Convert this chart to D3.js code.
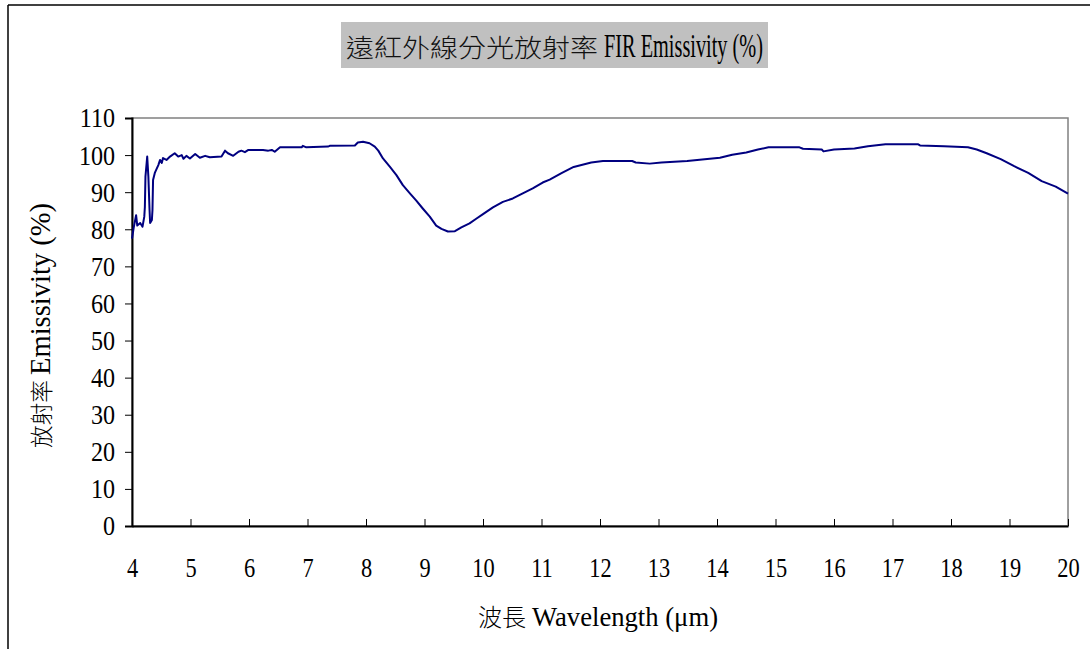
<!DOCTYPE html>
<html><head><meta charset="utf-8">
<script src="https://cdn.jsdelivr.net/npm/d3@7"></script>
<style>
html,body{margin:0;padding:0;background:#fff;}
svg{display:block;}
</style></head>
<body>
<svg id="chart" width="1090" height="649"></svg>
<script>
const wavelength = [4.00,4.03,4.07,4.09,4.14,4.18,4.21,4.22,4.23,4.26,4.28,4.30,4.31,4.34,4.35,4.36,4.39,4.45,4.48,4.51,4.53,4.59,4.65,4.73,4.79,4.85,4.88,4.93,4.99,5.08,5.16,5.25,5.33,5.53,5.59,5.64,5.73,5.82,5.87,5.93,5.99,6.24,6.33,6.39,6.44,6.53,6.90,6.92,6.98,7.35,7.38,7.81,7.86,7.95,8.06,8.15,8.21,8.29,8.41,8.52,8.63,8.75,8.86,8.97,9.09,9.20,9.29,9.40,9.52,9.63,9.77,9.89,10.00,10.17,10.34,10.51,10.68,10.85,11.02,11.14,11.35,11.55,11.85,12.05,12.55,12.61,12.85,13.05,13.49,13.79,14.05,14.26,14.50,14.70,14.88,15.41,15.47,15.79,15.82,16.00,16.35,16.58,16.88,17.44,17.47,17.88,18.29,18.44,18.61,18.85,19.08,19.32,19.55,19.79,20.00];
const emissivity = [77.5,80.5,83.8,81.0,81.7,80.7,83.4,86.0,94.2,99.6,94.2,85.2,81.7,82.5,85.2,93.3,95.2,97.3,98.7,97.9,99.2,98.7,99.6,100.5,99.6,100.0,99.0,99.8,99.1,100.3,99.3,99.8,99.4,99.6,101.2,100.5,99.8,100.9,101.2,100.8,101.4,101.4,101.2,101.4,100.9,102.1,102.1,102.5,102.1,102.3,102.5,102.6,103.4,103.6,103.2,102.3,101.2,99.1,96.8,94.6,91.9,89.7,87.7,85.6,83.4,81.0,80.1,79.4,79.5,80.5,81.6,82.9,84.1,85.9,87.4,88.3,89.7,91.0,92.6,93.4,95.2,96.8,98.0,98.4,98.4,98.0,97.7,98.0,98.4,98.9,99.3,100.1,100.7,101.5,102.1,102.1,101.7,101.5,101.0,101.5,101.8,102.4,102.9,102.9,102.6,102.4,102.1,101.5,100.5,98.9,97.0,95.2,93.0,91.5,89.6];
const xTicks = [4,5,6,7,8,9,10,11,12,13,14,15,16,17,18,19,20];
const yTicks = [0,10,20,30,40,50,60,70,80,90,100,110];
const titleCJK = "遠紅外線分光放射率";
const titleLatin = "FIR Emissivity (%)";
const yTitleCJK = "放射率";
const yTitleLatin = "Emissivity (%)";
const xTitleCJK = "波長";
const xTitleLatin = "Wavelength (μm)";

const svg = d3.select("#chart");
const L = 132, R = 1068, T = 118, B = 526;
const x = d3.scaleLinear().domain([4,20]).range([L,R]);
const y = d3.scaleLinear().domain([0,110]).range([B,T]);
const serif = "'Liberation Serif','Times New Roman',serif";
const cjk = "'Noto Sans CJK TC','Noto Sans CJK SC',sans-serif";

function condense(sel, f) {
  sel.each(function(){
    const w = this.getComputedTextLength();
    d3.select(this).attr("textLength", w*f).attr("lengthAdjust","spacingAndGlyphs");
  });
}

// outer chart border
svg.append("line").attr("x1",8).attr("y1",5).attr("x2",1090).attr("y2",5).attr("stroke","#000").attr("stroke-width",1.5);
svg.append("line").attr("x1",8).attr("y1",5).attr("x2",8).attr("y2",649).attr("stroke","#000").attr("stroke-width",1.5);

// title box
svg.append("rect").attr("x",341).attr("y",22).attr("width",427).attr("height",46).attr("fill","#c0c0c0");
svg.append("text").attr("x",346).attr("y",57).attr("font-family",cjk).attr("font-size",25).attr("font-weight",300)
  .attr("textLength",252).attr("lengthAdjust","spacingAndGlyphs").attr("fill","#111").text(titleCJK);
svg.append("text").attr("x",604).attr("y",57).attr("font-family",serif).attr("font-size",33)
  .attr("textLength",159).attr("lengthAdjust","spacingAndGlyphs").attr("fill","#000").text(titleLatin);

// plot area frame (top/right grey)
svg.append("rect").attr("x",L).attr("y",T).attr("width",R-L).attr("height",B-T)
  .attr("fill","#fff").attr("stroke","#808080").attr("stroke-width",1.5);

// y axis
const yAxis = d3.axisLeft(y).tickValues(yTicks).tickSize(7).tickPadding(10).tickFormat(d3.format("d"));
const gy = svg.append("g").attr("transform",`translate(${L},0)`).call(yAxis);
gy.select(".domain").attr("stroke","#000").attr("stroke-width",2);
gy.selectAll(".tick line").attr("stroke","#000").attr("stroke-width",1);
gy.selectAll(".tick text").attr("font-family",serif).attr("font-size",28).attr("fill","#000").call(condense,0.86);

// x axis (ticks inward)
const xAxis = d3.axisBottom(x).tickValues(xTicks).tickSizeInner(-7).tickSizeOuter(0).tickPadding(31).tickFormat(d3.format("d"));
const gx = svg.append("g").attr("transform",`translate(0,${B})`).call(xAxis);
gx.select(".domain").attr("stroke","#000").attr("stroke-width",2);
gx.selectAll(".tick line").attr("stroke","#000").attr("stroke-width",1);
gx.selectAll(".tick text").attr("font-family",serif).attr("font-size",28).attr("fill","#000").call(condense,0.8);

// data line
const line = d3.line().x((d,i)=>x(wavelength[i])).y(d=>y(d));
svg.append("path").datum(emissivity).attr("d",line).attr("fill","none")
  .attr("stroke","#000080").attr("stroke-width",2).attr("stroke-linejoin","round");

// y axis title (rotated)
const gyt = svg.append("g").attr("transform","translate(50,448) rotate(-90)");
gyt.append("text").attr("x",0).attr("y",0).attr("font-family",cjk).attr("font-size",23).attr("font-weight",300)
  .attr("textLength",68).attr("lengthAdjust","spacingAndGlyphs").text(yTitleCJK);
gyt.append("text").attr("x",73).attr("y",0).attr("font-family",serif).attr("font-size",30)
  .attr("textLength",172).attr("lengthAdjust","spacingAndGlyphs").text(yTitleLatin);

// x axis title
svg.append("text").attr("x",478).attr("y",626).attr("font-family",cjk).attr("font-size",24).attr("font-weight",300)
  .attr("textLength",48).attr("lengthAdjust","spacingAndGlyphs").text(xTitleCJK);
svg.append("text").attr("x",532).attr("y",626).attr("font-family",serif).attr("font-size",28)
  .attr("textLength",186).attr("lengthAdjust","spacingAndGlyphs").text(xTitleLatin);
</script>
</body></html>
